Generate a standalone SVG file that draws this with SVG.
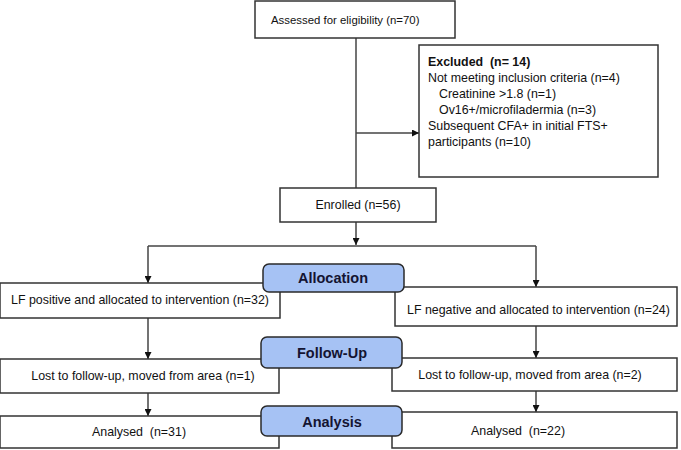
<svg xmlns="http://www.w3.org/2000/svg" width="681" height="450" viewBox="0 0 681 450">
<style>
.box{fill:#fff;stroke:#333;stroke-width:1.5}
.lbl{fill:#a6c2f4;stroke:#2a2a2a;stroke-width:1.5}
.t{font-family:"Liberation Sans",Arial,sans-serif;font-size:12.4px;fill:#111}
.lt{font-family:"Liberation Sans",Arial,sans-serif;font-size:14.5px;font-weight:bold;fill:#141432;text-anchor:middle}
.c{fill:none;stroke:#444;stroke-width:1.5}
</style>
<defs>
<marker id="ah" viewBox="0 0 10 10" refX="10" refY="5" markerWidth="7" markerHeight="7" markerUnits="userSpaceOnUse" orient="auto"><path d="M0,0L10,5L0,10z" fill="#111"/></marker>
</defs>
<g id="connectors">
<path class="c" d="M356,38V188"/>
<path class="c" d="M356,133H419" marker-end="url(#ah)"/>
<path class="c" d="M356,222V245" marker-end="url(#ah)"/>
<path class="c" d="M148,246H536"/>
<path class="c" d="M148,246V283" marker-end="url(#ah)"/>
<path class="c" d="M536,246V287" marker-end="url(#ah)"/>
<path class="c" d="M148,318V359" marker-end="url(#ah)"/>
<path class="c" d="M536,326V358" marker-end="url(#ah)"/>
<path class="c" d="M148,393V416" marker-end="url(#ah)"/>
<path class="c" d="M536,391V412" marker-end="url(#ah)"/>
</g>
<g id="assessed"><rect class="box" x="255" y="1" width="200" height="37"/><text class="t" x="271" y="24" style="font-size:11.4px">Assessed for eligibility (n=70)</text></g>
<g id="excluded"><rect class="box" x="419" y="45" width="239" height="132"/>
<text class="t" x="428" y="66" font-weight="bold">Excluded &#160;(n= 14)</text>
<text class="t" x="428" y="82">Not meeting inclusion criteria (n=4)</text>
<text class="t" x="439" y="98">Creatinine &gt;1.8 (n=1)</text>
<text class="t" x="439" y="114">Ov16+/microfiladermia (n=3)</text>
<text class="t" x="428" y="130">Subsequent CFA+ in initial FTS+</text>
<text class="t" x="428" y="146">participants (n=10)</text>
</g>
<g id="enrolled"><rect class="box" x="280" y="188" width="156" height="34"/><text class="t" x="358" y="209" text-anchor="middle">Enrolled (n=56)</text></g>
<g id="lfpos"><rect class="box" x="0" y="283" width="280" height="35"/><text class="t" x="11" y="304">LF positive and allocated to intervention (n=32)</text></g>
<g id="lfneg"><rect class="box" x="395" y="287" width="282" height="39"/><text class="t" x="407" y="314">LF negative and allocated to intervention (n=24)</text></g>
<g id="lost1"><rect class="box" x="0" y="359" width="279" height="34"/><text class="t" x="143" y="380" text-anchor="middle">Lost to follow-up, moved from area (n=1)</text></g>
<g id="lost2"><rect class="box" x="392" y="358" width="285" height="33"/><text class="t" x="530" y="379" text-anchor="middle">Lost to follow-up, moved from area (n=2)</text></g>
<g id="an31"><rect class="box" x="0" y="416" width="279" height="32"/><text class="t" x="139" y="436" text-anchor="middle">Analysed &#160;(n=31)</text></g>
<g id="an22"><rect class="box" x="392" y="412" width="285" height="36"/><text class="t" x="518" y="435" text-anchor="middle">Analysed &#160;(n=22)</text></g>
<g id="allocation"><rect class="lbl" x="263" y="264" width="141" height="28" rx="6"/><text class="lt" x="333" y="283">Allocation</text></g>
<g id="followup"><rect class="lbl" x="261" y="337" width="141" height="31" rx="6"/><text class="lt" x="332" y="358">Follow-Up</text></g>
<g id="analysis"><rect class="lbl" x="261" y="406" width="141" height="30" rx="6"/><text class="lt" x="332" y="427">Analysis</text></g>
</svg>
